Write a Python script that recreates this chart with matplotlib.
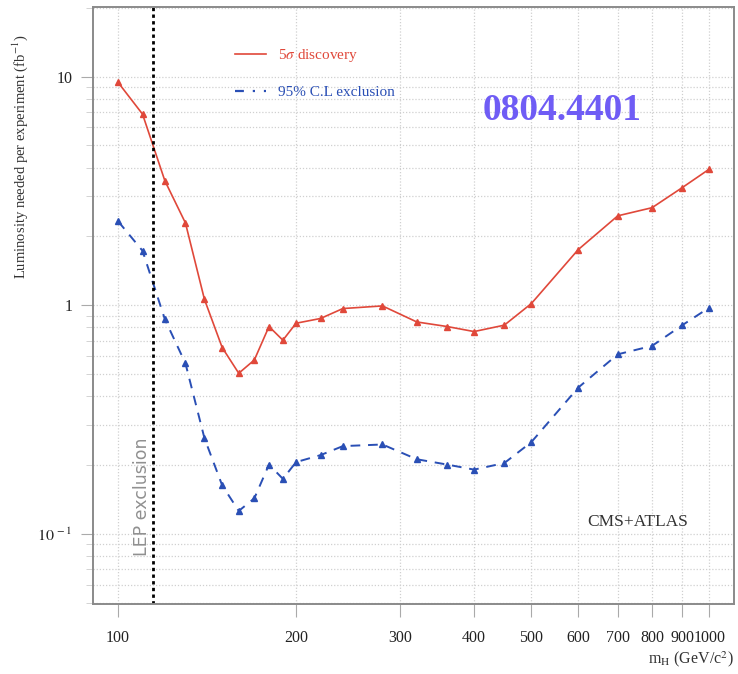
import numpy as np
import matplotlib
matplotlib.use("Agg")
import matplotlib.pyplot as plt
from matplotlib.lines import Line2D
from matplotlib.ticker import FixedLocator, NullLocator, LogLocator, NullFormatter

plt.rcParams['font.family'] = ['Liberation Serif', 'DejaVu Serif']
plt.rcParams['mathtext.fontset'] = 'stix'

# Higgs mass points (GeV/c^2)
mass = [100, 110, 120, 130, 140, 150, 160, 170, 180, 190, 200, 220, 240, 280,
        320, 360, 400, 450, 500, 600, 700, 800, 900, 1000]
# luminosity for 5 sigma discovery (fb^-1)
lumi_disc = [9.43, 6.85, 3.50, 2.29, 1.06, 0.653, 0.504, 0.576, 0.807, 0.703, 0.834, 0.875,
             0.967, 0.993, 0.845, 0.807, 0.767, 0.818, 1.017, 1.75, 2.46, 2.67, 3.27, 3.94]
# luminosity for 95% C.L. exclusion (fb^-1)
lumi_excl = [2.33, 1.73, 0.868, 0.557, 0.262, 0.163, 0.126, 0.143, 0.201, 0.174, 0.206, 0.221,
             0.242, 0.246, 0.212, 0.201, 0.191, 0.204, 0.252, 0.436, 0.610, 0.664, 0.818, 0.977]
lep_limit = 114.4
xticks = [100, 200, 300, 400, 500, 600, 700, 800, 900, 1000]

red = '#e0483a'
blue = '#2a4fb5'

fig = plt.figure(figsize=(7.38, 6.74), dpi=100)
ax = fig.add_axes([0.126, 0.104, 0.869, 0.886])

ax.plot(mass, lumi_disc, color=red, lw=1.2, marker='^', ms=4.5)
ax.plot(mass, lumi_excl, color=blue, lw=1.4, ls=(0, (5, 4)), marker='^', ms=4.5)
ax.axvline(lep_limit, color='black', lw=2, ls=(0, (1.2, 1.2)))

ax.set_xscale('log')
ax.set_yscale('log')
ax.set_xlim(90.7, 1102)
ax.set_ylim(0.0494, 20.2)

ax.xaxis.set_major_locator(FixedLocator(xticks))
ax.xaxis.set_minor_locator(NullLocator())
ax.set_xticklabels([str(t) for t in xticks])
ax.yaxis.set_major_locator(FixedLocator([0.1, 1, 10]))
ax.set_yticklabels([r'$10^{\,-1}$', '1', '10'])
ax.yaxis.set_minor_locator(LogLocator(base=10, subs=np.arange(2, 10)))
ax.yaxis.set_minor_formatter(NullFormatter())

ax.grid(True, which='major', color='#d0d0d0', ls=(0, (1, 1.5)), lw=0.9)
ax.grid(True, which='minor', axis='y', color='#d0d0d0', ls=(0, (1, 1.5)), lw=0.9)

ax.tick_params(axis='both', which='major', labelsize=11.5, colors='#aaaaaa',
               labelcolor='#222222', length=9, width=0.8)
ax.tick_params(axis='x', which='major', pad=10)
ax.tick_params(axis='y', which='major', pad=6)
ax.tick_params(axis='y', which='minor', colors='#cccccc', length=5, width=0.6)
for s in ax.spines.values():
    s.set_color('#8a8a8a')
    s.set_linewidth(1.4)

ax.set_ylabel(r'Luminosity needed per experiment (fb$^{-1}$)', fontsize=10.5, color='#333333')
ax.yaxis.set_label_coords(-0.098, 0.749)
fig.text(0.994, 0.008, r'm$_{\rm H}$ (GeV/c$^2$)', ha='right', va='bottom', fontsize=11.5, color='#333333')

handles = [Line2D([], [], color=red, lw=1.2),
           Line2D([], [], color=blue, lw=1.6, ls=(0, (4, 4, 1, 4)))]
ax.legend(handles, [r'5$\sigma$ discovery', '95% C.L exclusion'], loc='upper left',
          bbox_to_anchor=(0.2, 0.955), frameon=False, handlelength=2.0,
          labelspacing=1.4, fontsize=11, labelcolor=[red, blue])

ax.text(0.731, 0.826, '0804.4401', transform=ax.transAxes, ha='center', va='center',
        fontsize=27, fontweight='bold', color='#6f5cf5')
ax.text(0.85, 0.137, 'CMS+ATLAS', transform=ax.transAxes, ha='center', va='center',
        fontsize=12.5, color='#333333')
ax.text(0.077, 0.179, 'LEP exclusion', transform=ax.transAxes, rotation=90,
        ha='center', va='center', fontsize=12.5, color='#909090', family='DejaVu Sans')

fig.savefig('out.png', dpi=100)
